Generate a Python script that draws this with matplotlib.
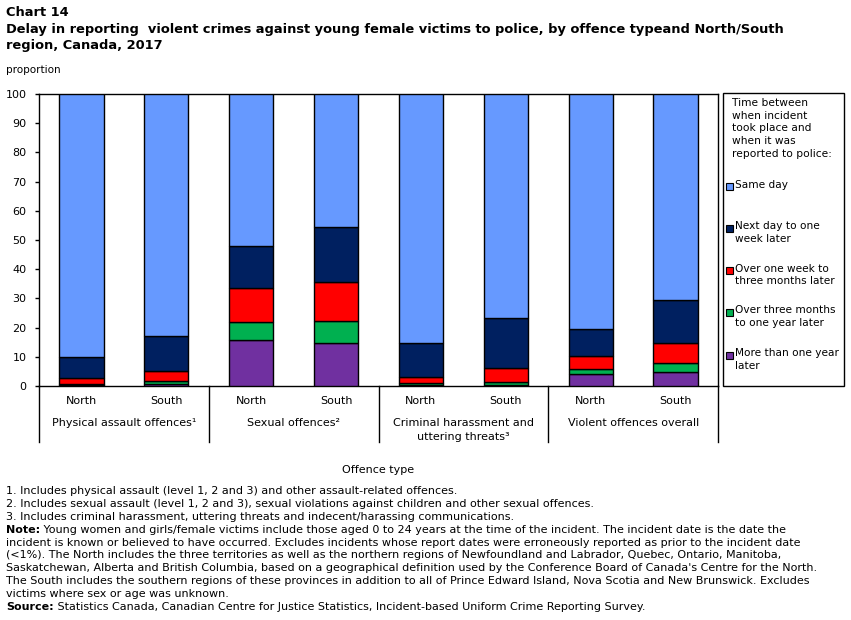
import matplotlib
matplotlib.use("Agg")
import matplotlib.pyplot as plt
from matplotlib.patches import Rectangle
from matplotlib.lines import Line2D

W, H = 851, 620

regions = ["North", "South", "North", "South", "North", "South", "North", "South"]
groups = ["Physical assault offences\u00b9", "Sexual offences\u00b2",
          "Criminal harassment and\nuttering threats\u00b3", "Violent offences overall"]

series_names = ["More than one year later", "Over three months to one year later",
                "Over one week to three months later", "Next day to one week later", "Same day"]
more_than_year = [0.4, 0.8, 15.8, 14.8, 0.2, 0.4, 4.2, 4.9]
three_months_year = [0.3, 1.0, 6.2, 7.5, 0.7, 1.1, 1.7, 3.1]
week_three_months = [2.0, 3.3, 11.6, 13.4, 2.3, 4.8, 4.5, 6.8]
next_day_week = [7.3, 12.1, 14.4, 18.8, 11.6, 17.1, 9.2, 14.7]
same_day = [90.0, 82.8, 52.0, 45.5, 85.2, 76.6, 80.4, 70.5]
series = [more_than_year, three_months_year, week_three_months, next_day_week, same_day]
colors = ["#7030A0", "#00B050", "#FF0000", "#002060", "#6699FF"]

legend_labels = ["Same day", "Next day to one\nweek later", "Over one week to\nthree months later",
                 "Over three months\nto one year later", "More than one year\nlater"]
legend_colors = ["#6699FF", "#002060", "#FF0000", "#00B050", "#7030A0"]

FONT = "DejaVu Sans"
plt.rcParams["font.family"] = [FONT]

fig = plt.figure(figsize=(W / 100, H / 100), dpi=100)

def fx(x):
    return x / W

def fy(y):
    return 1 - y / H

L, R, T, B = 39, 718, 94, 386
ax = fig.add_axes([fx(L), fy(B), (R - L) / W, (B - T) / H])

x = list(range(len(regions)))
bottom = [0.0] * len(regions)
for vals, c in zip(series, colors):
    ax.bar(x, vals, width=0.52, bottom=bottom, color=c, edgecolor="black", linewidth=1.0, zorder=3)
    bottom = [b + v for b, v in zip(bottom, vals)]

ax.set_xlim(-0.5, len(regions) - 0.5)
ax.set_ylim(0, 100)
ax.set_yticks(range(0, 101, 10))
ax.tick_params(axis="y", labelsize=8, length=3, width=1, pad=6, direction="out")
ax.set_xticks([])
for s in ax.spines.values():
    s.set_linewidth(1.0)

# region labels
for xi, r in zip(x, regions):
    ax.text(xi, -5.0, r, ha="center", va="center", fontsize=8)
for gi, g in enumerate(groups):
    ax.text(2 * gi + 0.5, -10.9, g, ha="center", va="top", fontsize=8, linespacing=1.55)

# group divider lines extending below the axis
ext = -(442 - 386) / (B - T) * 100
for xd in [-0.5, 1.5, 3.5, 5.5, 7.5]:
    ax.add_line(Line2D([xd, xd], [0, ext], color="black", linewidth=1.0, clip_on=False))

ax.text(3.5, -28.7, "Offence type", ha="center", va="center", fontsize=8)

# titles
fig.text(fx(6), fy(13), "Chart 14", fontsize=9.4, fontweight="bold", va="center", ha="left")
fig.text(fx(6), fy(30), "Delay in reporting  violent crimes against young female victims to police, by offence typeand North/South",
         fontsize=9.4, fontweight="bold", va="center", ha="left")
fig.text(fx(6), fy(46), "region, Canada, 2017", fontsize=9.4, fontweight="bold", va="center", ha="left")
fig.text(fx(6), fy(70), "proportion", fontsize=7.5, va="center", ha="left")

# legend box
lx0, ly0, lx1, ly1 = 723, 93, 844, 386
fig.patches.append(Rectangle((fx(lx0), fy(ly1)), (lx1 - lx0) / W, (ly1 - ly0) / H,
                             transform=fig.transFigure, facecolor="white", edgecolor="black",
                             linewidth=1.0))
fig.text(fx(732), fy(98), "Time between\nwhen incident\ntook place and\nwhen it was\nreported to police:",
         fontsize=7.7, va="top", ha="left", linespacing=1.34)
item_y = [186, 228, 270, 312, 355]
for yy, lab, c in zip(item_y, legend_labels, legend_colors):
    fig.patches.append(Rectangle((fx(726), fy(yy + 3.5)), 7 / W, 7 / H, transform=fig.transFigure,
                                 facecolor=c, edgecolor="black", linewidth=0.8))
    fig.text(fx(735), fy(yy - 6.5), lab, fontsize=7.6, va="top", ha="left", linespacing=1.36)

# footnotes
notes = [
    ("", "1. Includes physical assault (level 1, 2 and 3) and other assault-related offences."),
    ("", "2. Includes sexual assault (level 1, 2 and 3), sexual violations against children and other sexual offences."),
    ("", "3. Includes criminal harassment, uttering threats and indecent/harassing communications."),
    ("Note:", " Young women and girls/female victims include those aged 0 to 24 years at the time of the incident. The incident date is the date the"),
    ("", "incident is known or believed to have occurred. Excludes incidents whose report dates were erroneously reported as prior to the incident date"),
    ("", "(<1%). The North includes the three territories as well as the northern regions of Newfoundland and Labrador, Quebec, Ontario, Manitoba,"),
    ("", "Saskatchewan, Alberta and British Columbia, based on a geographical definition used by the Conference Board of Canada's Centre for the North."),
    ("", "The South includes the southern regions of these provinces in addition to all of Prince Edward Island, Nova Scotia and New Brunswick. Excludes"),
    ("", "victims where sex or age was unknown."),
    ("Source:", " Statistics Canada, Canadian Centre for Justice Statistics, Incident-based Uniform Crime Reporting Survey."),
]
fig.canvas.draw()
renderer = fig.canvas.get_renderer()
y0 = 491
for i, (bold, rest) in enumerate(notes):
    yy = y0 + i * 12.9
    xs = 6
    if bold:
        t = fig.text(fx(xs), fy(yy), bold, fontsize=8.0, fontweight="bold", va="center", ha="left")
        bb = t.get_window_extent(renderer)
        xs = xs + bb.width
    fig.text(fx(xs), fy(yy), rest, fontsize=8.0, va="center", ha="left")

fig.savefig("out.png", dpi=100)
